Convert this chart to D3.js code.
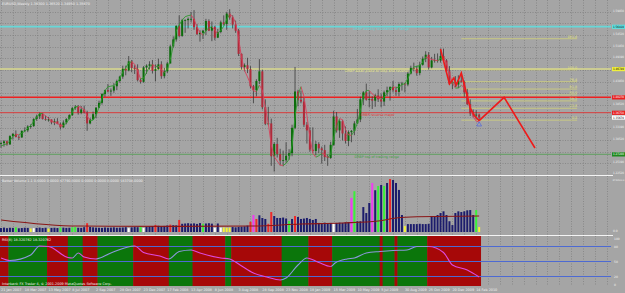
<!DOCTYPE html>
<html>
<head>
<meta charset="utf-8">
<style>
  body { margin: 0; background: #a5a5a5; }
  svg { display: block; font-family: "DejaVu Sans", sans-serif; }
  .small { font-size: 3.4px; fill: #f2f2f2; }
  .axis { font-size: 3px; fill: #f2f2f2; }
</style>
</head>
<body>
<script src="https://d3js.org/d3.v7.min.js"></script>
<script>
// weekly EUR/USD bars, [open, high, low, close]; the first 8 rows are the weeks
// before 21 Jan 2007 (left of the window, only used by the moving average)
var preBars = 8;
var ohlc = [
  [1.310,1.330,1.308,1.327],[1.327,1.337,1.318,1.321],[1.321,1.327,1.311,1.312],[1.312,1.318,1.307,1.314],
  [1.314,1.322,1.310,1.320],[1.320,1.324,1.298,1.300],[1.300,1.303,1.287,1.293],[1.293,1.297,1.285,1.296],
  [1.296,1.302,1.287,1.298],[1.298,1.305,1.290,1.302],[1.302,1.304,1.292,1.295],[1.295,1.316,1.294,1.314],
  [1.314,1.321,1.306,1.319],[1.319,1.327,1.311,1.312],[1.312,1.316,1.305,1.311],[1.311,1.327,1.310,1.326],
  [1.326,1.334,1.323,1.327],[1.327,1.339,1.323,1.336],[1.336,1.341,1.331,1.337],[1.337,1.355,1.335,1.353],
  [1.353,1.363,1.349,1.359],[1.359,1.368,1.353,1.365],[1.365,1.367,1.352,1.353],[1.353,1.361,1.349,1.351],
  [1.351,1.358,1.347,1.352],[1.352,1.352,1.341,1.345],[1.345,1.354,1.339,1.348],[1.348,1.355,1.341,1.342],
  [1.342,1.345,1.329,1.334],[1.334,1.350,1.333,1.345],[1.345,1.355,1.341,1.353],[1.353,1.364,1.352,1.362],
  [1.362,1.381,1.360,1.378],[1.378,1.385,1.374,1.381],[1.381,1.385,1.363,1.367],[1.367,1.383,1.364,1.375],
  [1.375,1.383,1.366,1.368],[1.368,1.372,1.326,1.343],[1.343,1.355,1.341,1.352],[1.352,1.370,1.351,1.364],
  [1.364,1.380,1.355,1.379],[1.379,1.395,1.378,1.390],[1.390,1.412,1.386,1.410],[1.410,1.420,1.404,1.419],
  [1.419,1.433,1.414,1.416],[1.416,1.423,1.406,1.418],[1.418,1.435,1.413,1.428],[1.428,1.443,1.419,1.440],
  [1.440,1.452,1.436,1.450],[1.450,1.475,1.445,1.468],[1.468,1.475,1.453,1.464],[1.464,1.497,1.462,1.485],
  [1.485,1.488,1.460,1.470],[1.470,1.476,1.456,1.467],[1.467,1.478,1.439,1.442],[1.442,1.446,1.434,1.438],
  [1.438,1.474,1.436,1.471],[1.471,1.478,1.456,1.475],[1.475,1.485,1.466,1.478],[1.478,1.488,1.457,1.463],
  [1.463,1.478,1.439,1.467],[1.467,1.491,1.466,1.478],[1.478,1.485,1.445,1.451],[1.451,1.470,1.446,1.462],
  [1.462,1.484,1.458,1.480],[1.480,1.523,1.480,1.519],[1.519,1.542,1.516,1.535],[1.535,1.567,1.530,1.566],
  [1.566,1.590,1.540,1.543],[1.543,1.582,1.541,1.579],[1.579,1.581,1.550,1.579],[1.579,1.585,1.560,1.582],
  [1.582,1.598,1.574,1.582],[1.582,1.602,1.557,1.563],[1.563,1.570,1.545,1.547],[1.547,1.556,1.530,1.550],
  [1.550,1.557,1.536,1.555],[1.555,1.582,1.545,1.577],[1.577,1.581,1.554,1.555],[1.555,1.576,1.531,1.564],
  [1.564,1.566,1.533,1.539],[1.539,1.559,1.538,1.552],[1.552,1.578,1.549,1.574],[1.574,1.590,1.567,1.570],
  [1.570,1.598,1.557,1.594],[1.594,1.604,1.580,1.585],[1.585,1.590,1.560,1.569],[1.569,1.578,1.550,1.555],
  [1.555,1.559,1.497,1.502],[1.502,1.503,1.466,1.472],[1.472,1.480,1.462,1.476],[1.476,1.493,1.458,1.467],
  [1.467,1.474,1.423,1.428],[1.428,1.431,1.389,1.419],[1.419,1.444,1.405,1.440],[1.440,1.490,1.433,1.462],
  [1.462,1.466,1.375,1.380],[1.380,1.398,1.339,1.342],[1.342,1.381,1.339,1.343],[1.343,1.354,1.246,1.268],
  [1.268,1.300,1.233,1.296],[1.296,1.310,1.265,1.273],[1.273,1.285,1.247,1.258],[1.258,1.281,1.245,1.259],
  [1.259,1.300,1.253,1.269],[1.269,1.284,1.260,1.275],[1.275,1.340,1.268,1.333],[1.333,1.472,1.330,1.416],
  [1.416,1.420,1.382,1.397],[1.397,1.418,1.389,1.393],[1.393,1.403,1.335,1.340],[1.340,1.346,1.297,1.327],
  [1.327,1.334,1.278,1.283],[1.283,1.334,1.276,1.280],[1.280,1.303,1.270,1.296],[1.296,1.300,1.275,1.286],
  [1.286,1.290,1.251,1.282],[1.282,1.294,1.257,1.266],[1.266,1.272,1.246,1.264],[1.264,1.301,1.262,1.294],
  [1.294,1.372,1.292,1.359],[1.359,1.369,1.322,1.327],[1.327,1.352,1.310,1.348],[1.348,1.351,1.304,1.320],
  [1.320,1.336,1.297,1.303],[1.303,1.327,1.291,1.323],[1.323,1.328,1.300,1.326],[1.326,1.348,1.316,1.343],
  [1.343,1.376,1.342,1.352],[1.352,1.404,1.346,1.398],[1.398,1.417,1.385,1.414],[1.414,1.434,1.395,1.397],
  [1.397,1.417,1.380,1.399],[1.399,1.405,1.376,1.395],[1.395,1.410,1.381,1.407],[1.407,1.421,1.392,1.398],
  [1.398,1.411,1.380,1.393],[1.393,1.418,1.383,1.414],[1.414,1.427,1.405,1.419],[1.419,1.428,1.395,1.426],
  [1.426,1.440,1.414,1.419],[1.419,1.427,1.406,1.415],[1.415,1.437,1.405,1.433],[1.433,1.438,1.418,1.434],
  [1.434,1.436,1.414,1.432],[1.432,1.462,1.428,1.457],[1.457,1.475,1.455,1.470],[1.470,1.482,1.462,1.468],
  [1.468,1.475,1.452,1.458],[1.458,1.484,1.453,1.477],[1.477,1.496,1.475,1.491],[1.491,1.508,1.483,1.500],
  [1.500,1.506,1.466,1.471],[1.471,1.495,1.469,1.487],[1.487,1.502,1.482,1.488],[1.488,1.503,1.482,1.487],
  [1.487,1.514,1.482,1.497],[1.497,1.514,1.486,1.487],[1.487,1.490,1.460,1.462],[1.462,1.474,1.431,1.434],
  [1.434,1.440,1.421,1.438],[1.438,1.451,1.426,1.432],[1.432,1.453,1.424,1.441],[1.441,1.458,1.436,1.438],
  [1.438,1.440,1.404,1.414],[1.414,1.422,1.385,1.387],[1.387,1.398,1.360,1.366],[1.366,1.375,1.358,1.362],
  [1.362,1.373,1.352,1.363],[1.363,1.3652,1.3495,1.3567]
];

// tick volume in thousands, one per visible bar
var volume = [
  28,31,27,30,29,33,26,28,30,29, 25,27,29,31,28,30,24,29,30,28,
  32,31,29,30,33,35,30,29,34,62, 36,33,31,30,29,32,30,31,33,30,
  31,32,34,27,33,35,34,38,29,36, 38,42,50,44,40,43,46,52,48,47,
  85,58,60,62,59,61,57,63,58,60, 62,59,30,60,31,32,30,31,35,33,
  36,38,40,45,72,120,92,118,99,92, 58,141,113,99,99,102,95,78,92,113,
  106,92,95,99,92,85,92,64,62,66, 60,64,62,64,66,64,68,70,240,288,
  76,76,176,134,205,346,295,325,332,325, 346,374,367,346,297,120,42,56,56,56,
  56,58,56,56,58,111,113,120,134,146, 120,76,49,134,146,141,146,153,155,120,
  155,35
];
// Better Volume class per bar: b normal, r climax, g churn, m climax+churn, w low, y neutral
var volumeClass =
  "bbbbbgbbbb" + "ywbbbbybbb" + "gbbbggbbbr" + "bbbbbbbbbb" + "bbbwbbbgwb" +
  "bbrbbbbrbb" + "rbbbbbbbgb" + "bbwbwyyybb" + "bbbbrmrbbb" + "rrbbbbbgbr" +
  "bbbbbbbbbb" + "bbwbbbbbmg" + "bbbbbmbgbg" + "brbbbbybbb" + "bbbbbbbbbb" +
  "bbbbbbbbbb" + "gy";
// average volume line read at a few bars: [bar, thousands]
var volumeAvg = [[0,85],[26,42],[60,40],[84,42],[101,56],[115,64],[127,78],[133,99],[140,108],[161,113]];

// RSI: [bar, value]
var rsi = [[0,57],[3,52],[10,63],[13,81],[16,80],[22.5,58],[24,57],[26,67],[28,59],[32,55],[37,67],
  [45,81],[48,68],[53.5,61],[56.5,55],[60,70],[64,73],[67,67],[74,57],[77,55],[80.5,43],[85,27],
  [89.5,19],[94,13],[96,17],[100,43],[103,57],[107,48],[111,40],[112.5,47],[116.5,55],[119,57],
  [123,67],[127.6,70],[132,72],[136.7,73],[140,80],[144,80],[149,68],[152,43],[157,33],[161,19]];
// background state per bar: r falling, g rising
var rsiState =
  "rrrggggggggggggg" + "rrrrrrrggggg" + "rrrrrgggggggggggg" + "rrrrrrrrrrrrgggggggg" +
  "rrrrrrrrrrrgg" + "rrrrrrrrrrrrrrrrrggggggggg" + "rrrrrrrrgggggggggggggggg" +
  "rggggrgggggggggg" + "rrrrrrrrrrrrrrrrrr";
var rsiLevels = [80, 50, 20];
var rsiTicks = [100, 80, 50, 20, 0];

var dateLabels = ["21 Jan 2007","18 Mar 2007","13 May 2007","8 Jul 2007","2 Sep 2007","28 Oct 2007",
  "23 Dec 2007","17 Feb 2008","13 Apr 2008","8 Jun 2008","3 Aug 2008","28 Sep 2008","23 Nov 2008",
  "18 Jan 2009","15 Mar 2009","10 May 2009","5 Jul 2009","30 Aug 2009","25 Oct 2009","20 Dec 2009",
  "14 Feb 2010"];
var labelEvery = 8;
var priceTicks = [1.2252,1.2519,1.2785,1.3052,1.3319,1.3585,1.3852,1.4119,1.4385,1.4652,1.4919,1.5185,1.5452,1.5719,1.5985];

// horizontal levels drawn by the trader
var levelPrices = [1.5641, 1.4674, 1.4027, 1.3675, 1.2724];
var levelNotes = ["DRBP weekly resistance of range", "DRBP weak place to stop and reverse", "",
  "DRBP reverse major", "DRBP top of trading range"];

// fibonacci retracement
var fibLevels = [0, 23.6, 38.2, 50, 61.8, 76.4, 100, 161.8];
var fibLow = 1.3505, fibHigh = 1.4655;
var fibBars = [155, 194];

// zigzag and projected path: [bar, price]
var zigzag = [[148,1.5131],[151,1.4331],[152.5,1.4468],[153.3,1.4308],[155,1.4582],[158,1.3782],[159.5,1.3600],[161,1.3495]];
var projection = [[161,1.3495],[169.4,1.4027],[179.8,1.2868]];

var headerText = "EURUSD,Weekly  1.36300 1.36520 1.34950 1.35670";
var volumeText = "Better Volume 1.1  0.0000  0.0000  47790.0000  0.0000  0.0000  0.0000  183704.0000";
var rsiText = "RSI(8) 18.320762 18.320762";
var footerText = "Interbank FX Trader 4, © 2001-2009 MetaQuotes Software Corp.";

// ---------------------------------------------------------------
var W = 625, H = 293, plotW = 611;

var x = d3.scaleLinear().domain([-0.34, 205.4]).range([0, plotW]);
var yP = d3.scaleLinear().domain([1.2251, 1.6251]).range([175, 0]);
var yV = d3.scaleLinear().domain([0, 374.2]).range([232, 179]);
var yR = d3.scaleLinear().domain([0, 100]).range([286.5, 236.5]);

var svg = d3.select("body").append("svg")
    .attr("width", W)
    .attr("height", H);

svg.append("rect").attr("width", W).attr("height", H).attr("fill", "#a5a5a5");

var defs = svg.append("defs");
function clip(id, y0, y1) {
  defs.append("clipPath").attr("id", id).append("rect")
      .attr("x", 0).attr("y", y0).attr("width", plotW).attr("height", y1 - y0);
}
clip("cMain", 0, 175);
clip("cVol", 176, 235);
clip("cRsi", 236, 286);

var gMain = svg.append("g").attr("clip-path", "url(#cMain)");
var gVol = svg.append("g").attr("clip-path", "url(#cVol)");
var gRsi = svg.append("g").attr("clip-path", "url(#cRsi)");

var bars = d3.range(volume.length);
var gridBars = d3.range(0, 206, 4);

// vertical dotted grid in all panels (the RSI bands are painted over it)
[[gMain, 0, 175], [gVol, 176, 235], [gRsi, 236, 286]].forEach(function(p) {
  p[0].selectAll(null)
      .data(gridBars)
    .enter().append("line")
      .attr("x1", function(b) { return Math.round(x(b)) + 0.5; })
      .attr("x2", function(b) { return Math.round(x(b)) + 0.5; })
      .attr("y1", p[1]).attr("y2", p[2])
      .attr("stroke", "#7c7c7c")
      .attr("stroke-width", 0.7)
      .attr("stroke-dasharray", "1,1.5");
});

// RSI background bands, one rect per run of equal state
var runs = [];
bars.forEach(function(i) {
  var s = rsiState[i];
  if (runs.length && runs[runs.length - 1].s === s) runs[runs.length - 1].to = i;
  else runs.push({ s: s, from: i, to: i });
});
gRsi.selectAll("rect.band")
    .data(runs)
  .enter().append("rect")
    .attr("x", function(d) { return x(d.from - 0.5); })
    .attr("width", function(d) { return x(d.to + 0.5) - x(d.from - 0.5) + 0.4; })
    .attr("y", 236)
    .attr("height", 50)
    .attr("fill", function(d) { return d.s === "g" ? "#0b760b" : "#a60808"; });

// horizontal price grid
gMain.selectAll(null)
    .data(priceTicks)
  .enter().append("line")
    .attr("x1", 0).attr("x2", plotW)
    .attr("y1", function(d) { return Math.round(yP(d)) + 0.5; })
    .attr("y2", function(d) { return Math.round(yP(d)) + 0.5; })
    .attr("stroke", "#7c7c7c")
    .attr("stroke-width", 0.7)
    .attr("stroke-dasharray", "1,1.5");

// trader's levels
var levelColors = ["#66d8d8", "#dada8e", "#ee2020", "#d83a3a", "#5f9f5f"];
var levelWidths = [1.8, 1.4, 1.6, 1, 1];
levelPrices.forEach(function(p, k) {
  gMain.append("line")
      .attr("x1", 0).attr("x2", plotW)
      .attr("y1", yP(p)).attr("y2", yP(p))
      .attr("stroke", levelColors[k])
      .attr("stroke-width", levelWidths[k]);
});

// fibonacci lines
fibLevels.forEach(function(f) {
  var p = fibLow + (fibHigh - fibLow) * f / 100;
  gMain.append("line")
      .attr("x1", x(fibBars[0])).attr("x2", x(fibBars[1]))
      .attr("y1", yP(p)).attr("y2", yP(p))
      .attr("stroke", "#d2d27a")
      .attr("stroke-width", 0.8);
  gMain.append("text")
      .attr("class", "small")
      .attr("x", x(fibBars[1])).attr("y", yP(p) - 0.8)
      .attr("text-anchor", "end")
      .style("fill", "#e4e47c")
      .text(f === 0 ? "0.0" : d3.format(".1f")(f));
});

// candles
var rows = ohlc.map(function(d, r) { return { i: r - preBars, o: d[0], h: d[1], l: d[2], c: d[3] }; });
var candle = gMain.selectAll("g.candle")
    .data(rows)
  .enter().append("g");
candle.append("line")
    .attr("x1", function(d) { return x(d.i); })
    .attr("x2", function(d) { return x(d.i); })
    .attr("y1", function(d) { return yP(d.h); })
    .attr("y2", function(d) { return yP(d.l); })
    .attr("stroke", "#3a3a3a")
    .attr("stroke-width", 0.8);
candle.append("rect")
    .attr("x", function(d) { return x(d.i) - 1; })
    .attr("width", 2)
    .attr("y", function(d) { return yP(Math.max(d.o, d.c)); })
    .attr("height", function(d) { return Math.max(0.8, Math.abs(yP(d.o) - yP(d.c))); })
    .attr("fill", function(d) { return d.c >= d.o ? "#0b6d0b" : "#b02a3a"; });

// Hull moving average of the closes (the chart's trend line)
var closes = ohlc.map(function(d) { return d[3]; });
function wma(arr, n, i) {
  if (i < n - 1) return null;
  var num = 0, den = 0;
  for (var k = 0; k < n; k++) {
    if (arr[i - k] == null) return null;
    num += arr[i - k] * (n - k); den += n - k;
  }
  return num / den;
}
var hmaN = 8;
var diff = closes.map(function(c, i) {
  var a = wma(closes, hmaN / 2, i), b = wma(closes, hmaN, i);
  return a == null || b == null ? null : 2 * a - b;
});
var hma = closes.map(function(c, i) { return wma(diff, Math.floor(Math.sqrt(hmaN)), i); });
for (var r = 1; r < hma.length; r++) {
  if (hma[r] == null || hma[r - 1] == null) continue;
  gMain.append("line")
      .attr("x1", x(r - 1 - preBars)).attr("x2", x(r - preBars))
      .attr("y1", yP(hma[r - 1])).attr("y2", yP(hma[r]))
      .attr("stroke", hma[r] >= hma[r - 1] ? "#2f9a2f" : "#d8405a")
      .attr("stroke-width", 0.9);
}

// zigzag and projection
var zz = d3.line().x(function(d) { return x(d[0]); }).y(function(d) { return yP(d[1]); });
gMain.append("path").attr("d", zz(zigzag))
    .attr("fill", "none").attr("stroke", "#ee1a1a").attr("stroke-width", 1.6);
gMain.append("path").attr("d", zz(projection))
    .attr("fill", "none").attr("stroke", "#ee1a1a").attr("stroke-width", 1.6);

// small arrow under the last low
var last = rows[rows.length - 1];
gMain.append("path")
    .attr("d", d3.symbol().type(d3.symbolTriangle).size(10)())
    .attr("transform", "translate(" + x(last.i) + "," + (yP(last.l) + 4) + ")")
    .attr("fill", "none").attr("stroke", "#4f64e0").attr("stroke-width", 0.7);

// notes on the levels
var noteBars = [118.5, 115.8, 0, 121, 119];
var noteColors = ["#66d8d8", "#eaea8c", "#e83030", "#e03030", "#3ea03e"];
levelNotes.forEach(function(t, k) {
  if (!t) return;
  gMain.append("text")
      .attr("class", "small")
      .attr("x", x(noteBars[k])).attr("y", yP(levelPrices[k]) + 3.4)
      .style("fill", noteColors[k])
      .text(t);
});

gMain.append("text").attr("class", "small").attr("x", 2).attr("y", 5).text(headerText);

// volume bars
var volColors = { b: "#1c1c6c", r: "#ee2a2a", g: "#3af03a", m: "#f03cf0", w: "#ffffff", y: "#f4f43a" };
gVol.selectAll("rect.vol")
    .data(bars)
  .enter().append("rect")
    .attr("x", function(i) { return x(i) - 1; })
    .attr("width", 2)
    .attr("y", function(i) { return yV(volume[i]); })
    .attr("height", function(i) { return yV(0) - yV(volume[i]); })
    .attr("fill", function(i) { return volColors[volumeClass[i]]; });
gVol.append("path")
    .attr("d", d3.line().curve(d3.curveMonotoneX)
        .x(function(d) { return x(d[0]); })
        .y(function(d) { return yV(d[1]); })(volumeAvg))
    .attr("fill", "none").attr("stroke", "#8a1616").attr("stroke-width", 1.1);
gVol.append("text").attr("class", "small").attr("x", 2).attr("y", 182).text(volumeText);

// RSI levels and line; the smooth line is drawn twice, the falling stretches
// are clipped out of the blue copy into the magenta one
rsiLevels.forEach(function(v) {
  gRsi.append("line")
      .attr("x1", 0).attr("x2", plotW)
      .attr("y1", yR(v)).attr("y2", yR(v))
      .attr("stroke", "#4d6ad2").attr("stroke-width", 1);
});
var falling = defs.append("clipPath").attr("id", "cFall");
var risingClip = defs.append("clipPath").attr("id", "cRise");
for (var k = 1; k < rsi.length; k++) {
  var target = rsi[k][1] < rsi[k - 1][1] ? falling : risingClip;
  target.append("rect")
      .attr("x", x(rsi[k - 1][0]) - 0.05).attr("width", x(rsi[k][0]) - x(rsi[k - 1][0]) + 0.1)
      .attr("y", 230).attr("height", 60);
}
var rsiLine = d3.line().curve(d3.curveMonotoneX)
    .x(function(d) { return x(d[0]); })
    .y(function(d) { return yR(d[1]); });
gRsi.append("path").attr("d", rsiLine(rsi)).attr("clip-path", "url(#cRise)")
    .attr("fill", "none").attr("stroke", "#8c98dc").attr("stroke-width", 1.1);
gRsi.append("path").attr("d", rsiLine(rsi)).attr("clip-path", "url(#cFall)")
    .attr("fill", "none").attr("stroke", "#de4ade").attr("stroke-width", 1.1);
gRsi.append("text").attr("class", "small").attr("x", 2).attr("y", 241).text(rsiText);
gRsi.append("text").attr("class", "small").attr("x", 2).attr("y", 284.5).text(footerText);

// panel separators
[175.5, 235.5].forEach(function(y) {
  svg.append("line").attr("x1", 0).attr("x2", 613).attr("y1", y).attr("y2", y)
      .attr("stroke", "#f4f4f4").attr("stroke-width", 1);
});

// right price scale; a tick label under a coloured marker is hidden by it
var boxColors = ["#5ee0e0", "#f0f03c", "#e82020", "#e82020", "#1e8a1e"];
var boxes = levelPrices.map(function(p, k) { return { p: p, c: boxColors[k] }; });
boxes.push({ p: last.c, c: "#ffffff" });
var freeTicks = priceTicks.filter(function(t) {
  return boxes.every(function(b) { return Math.abs(yP(b.p) - yP(t)) > 4.5; });
});
svg.selectAll("text.pt")
    .data(freeTicks)
  .enter().append("text")
    .attr("class", "axis")
    .attr("x", 613)
    .attr("y", function(d) { return yP(d) + (d < 1.23 ? -1 : 0.2); })
    .attr("textLength", 11)
    .attr("lengthAdjust", "spacingAndGlyphs")
    .text(function(d) { return d3.format(".5f")(d); });

var box = svg.selectAll("g.box").data(boxes).enter().append("g");
box.append("rect")
    .attr("x", 612).attr("width", 13)
    .attr("y", function(d) { return yP(d.p) - 2; })
    .attr("height", 4.2)
    .attr("fill", function(d) { return d.c; });
box.append("text")
    .attr("class", "axis")
    .attr("x", 613)
    .attr("y", function(d) { return yP(d.p) + 1.1; })
    .attr("textLength", 11)
    .attr("lengthAdjust", "spacingAndGlyphs")
    .style("fill", function(d) { return d.c === "#e82020" || d.c === "#1e8a1e" ? "#fff" : "#000"; })
    .text(function(d) { return d3.format(".5f")(d.p); });

// volume and rsi scales
svg.append("text").attr("class", "axis").attr("x", 612.5).attr("y", 180.8)
    .style("font-size", "2.5px").text("374200.0");
svg.append("text").attr("class", "axis").attr("x", 613).attr("y", 232).text("0.0");
svg.selectAll("text.rt")
    .data(rsiTicks)
  .enter().append("text")
    .attr("class", "axis")
    .attr("x", 614)
    .attr("y", function(v) { return yR(v) + (v === 100 ? 3 : v === 0 ? -0.5 : 1.1); })
    .text(function(v) { return v; });

// date axis
svg.selectAll("text.dt")
    .data(dateLabels)
  .enter().append("text")
    .attr("class", "small")
    .attr("x", function(d, k) { return x(k * labelEvery); })
    .attr("y", 290.5)
    .text(function(d) { return d; });
</script>
</body>
</html>
